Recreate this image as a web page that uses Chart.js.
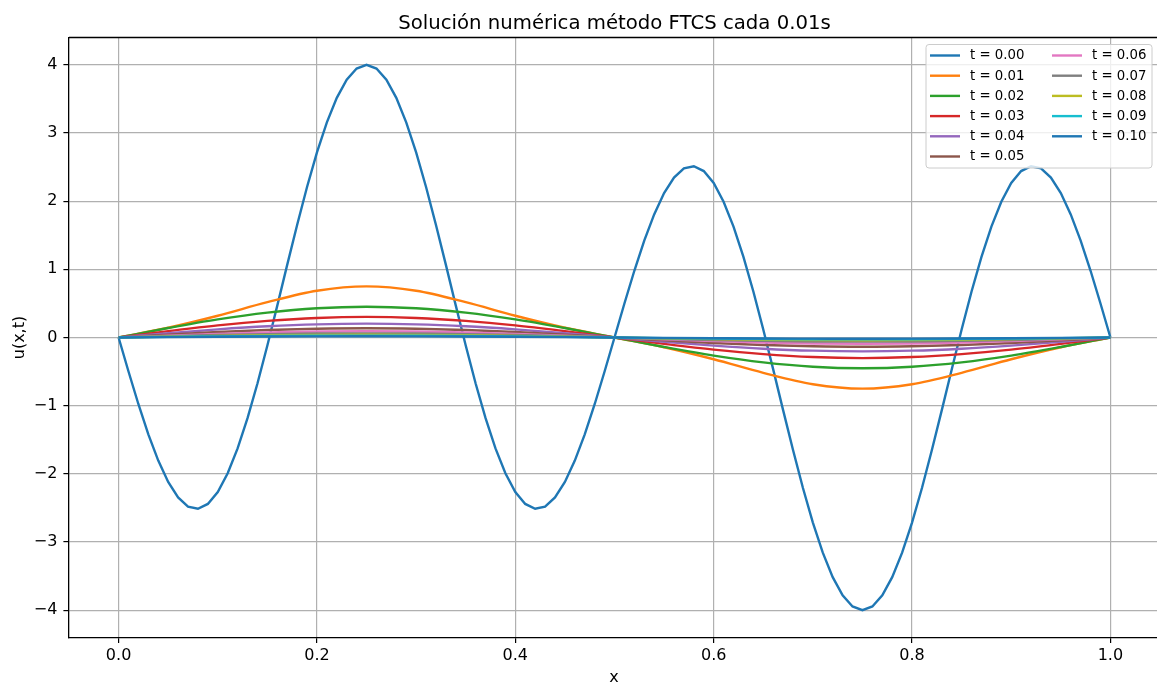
<!DOCTYPE html>
<html lang="es">
<head>
<meta charset="UTF-8">
<title>FTCS</title>
<script src="https://cdn.jsdelivr.net/npm/chart.js"></script>
<style>
  html, body { margin: 0; padding: 0; overflow: hidden; background: #fff; }
</style>
</head>
<body>
<canvas id="chart" width="1163" height="686"></canvas>
<script>
// malla fina (dx = 0.01) para la condición inicial
const xFine = [
  0.00, 0.01, 0.02, 0.03, 0.04, 0.05, 0.06, 0.07, 0.08, 0.09,
  0.10, 0.11, 0.12, 0.13, 0.14, 0.15, 0.16, 0.17, 0.18, 0.19,
  0.20, 0.21, 0.22, 0.23, 0.24, 0.25, 0.26, 0.27, 0.28, 0.29,
  0.30, 0.31, 0.32, 0.33, 0.34, 0.35, 0.36, 0.37, 0.38, 0.39,
  0.40, 0.41, 0.42, 0.43, 0.44, 0.45, 0.46, 0.47, 0.48, 0.49,
  0.50, 0.51, 0.52, 0.53, 0.54, 0.55, 0.56, 0.57, 0.58, 0.59,
  0.60, 0.61, 0.62, 0.63, 0.64, 0.65, 0.66, 0.67, 0.68, 0.69,
  0.70, 0.71, 0.72, 0.73, 0.74, 0.75, 0.76, 0.77, 0.78, 0.79,
  0.80, 0.81, 0.82, 0.83, 0.84, 0.85, 0.86, 0.87, 0.88, 0.89,
  0.90, 0.91, 0.92, 0.93, 0.94, 0.95, 0.96, 0.97, 0.98, 0.99,
  1.00
];
const u000 = [
  0.000, -0.499, -0.979, -1.420, -1.805, -2.118, -2.346, -2.480, -2.512, -2.441,
  -2.266, -1.992, -1.627, -1.183, -0.675, -0.118, 0.468, 1.065, 1.651, 2.207,
  2.715, 3.156, 3.515, 3.782, 3.945, 4.000, 3.945, 3.782, 3.515, 3.156,
  2.715, 2.207, 1.651, 1.065, 0.468, -0.118, -0.675, -1.183, -1.627, -1.992,
  -2.266, -2.441, -2.512, -2.480, -2.346, -2.118, -1.805, -1.420, -0.979, -0.499,
  0.000, 0.499, 0.979, 1.420, 1.805, 2.118, 2.346, 2.480, 2.512, 2.441,
  2.266, 1.992, 1.627, 1.183, 0.675, 0.118, -0.468, -1.065, -1.651, -2.207,
  -2.715, -3.156, -3.515, -3.782, -3.945, -4.000, -3.945, -3.782, -3.515, -3.156,
  -2.715, -2.207, -1.651, -1.065, -0.468, 0.118, 0.675, 1.183, 1.627, 1.992,
  2.266, 2.441, 2.512, 2.480, 2.346, 2.118, 1.805, 1.420, 0.979, 0.499,
  0.000
];

// perfiles siguientes, muestreados cada 0.05
const xCoarse = [0.00, 0.05, 0.10, 0.15, 0.20, 0.25, 0.30, 0.35, 0.40, 0.45, 0.50,
                 0.55, 0.60, 0.65, 0.70, 0.75, 0.80, 0.85, 0.90, 0.95, 1.00];
const u001 = [0, 0.143, 0.319, 0.518, 0.685, 0.750, 0.685, 0.518, 0.319, 0.143, 0,
              -0.143, -0.319, -0.518, -0.685, -0.750, -0.685, -0.518, -0.319, -0.143, 0];
const u002 = [0, 0.139, 0.265, 0.364, 0.428, 0.450, 0.428, 0.364, 0.265, 0.139, 0,
              -0.139, -0.265, -0.364, -0.428, -0.450, -0.428, -0.364, -0.265, -0.139, 0];
const u003 = [0, 0.093, 0.178, 0.244, 0.287, 0.302, 0.287, 0.244, 0.178, 0.093, 0,
              -0.093, -0.178, -0.244, -0.287, -0.302, -0.287, -0.244, -0.178, -0.093, 0];
const u004 = [0, 0.063, 0.119, 0.164, 0.193, 0.203, 0.193, 0.164, 0.119, 0.063, 0,
              -0.063, -0.119, -0.164, -0.193, -0.203, -0.193, -0.164, -0.119, -0.063, 0];
const u005 = [0, 0.042, 0.080, 0.110, 0.129, 0.136, 0.129, 0.110, 0.080, 0.042, 0,
              -0.042, -0.080, -0.110, -0.129, -0.136, -0.129, -0.110, -0.080, -0.042, 0];
const u006 = [0, 0.028, 0.053, 0.074, 0.087, 0.091, 0.087, 0.074, 0.053, 0.028, 0,
              -0.028, -0.053, -0.074, -0.087, -0.091, -0.087, -0.074, -0.053, -0.028, 0];
const u007 = [0, 0.019, 0.036, 0.049, 0.058, 0.061, 0.058, 0.049, 0.036, 0.019, 0,
              -0.019, -0.036, -0.049, -0.058, -0.061, -0.058, -0.049, -0.036, -0.019, 0];
const u008 = [0, 0.013, 0.024, 0.033, 0.039, 0.041, 0.039, 0.033, 0.024, 0.013, 0,
              -0.013, -0.024, -0.033, -0.039, -0.041, -0.039, -0.033, -0.024, -0.013, 0];
const u009 = [0, 0.009, 0.016, 0.023, 0.027, 0.028, 0.027, 0.023, 0.016, 0.009, 0,
              -0.009, -0.016, -0.023, -0.027, -0.028, -0.027, -0.023, -0.016, -0.009, 0];
const u010 = [0, 0.006, 0.011, 0.015, 0.017, 0.018, 0.017, 0.015, 0.011, 0.006, 0,
              -0.006, -0.011, -0.015, -0.017, -0.018, -0.017, -0.015, -0.011, -0.006, 0];

const tLabels = ["t = 0.00", "t = 0.01", "t = 0.02", "t = 0.03", "t = 0.04", "t = 0.05",
                 "t = 0.06", "t = 0.07", "t = 0.08", "t = 0.09", "t = 0.10"];
const xTicks = [0.0, 0.2, 0.4, 0.6, 0.8, 1.0];
const yTicks = [-4, -3, -2, -1, 0, 1, 2, 3, 4];

const colors = ["#1f77b4", "#ff7f0e", "#2ca02c", "#d62728", "#9467bd", "#8c564b",
                "#e377c2", "#7f7f7f", "#bcbd22", "#17becf", "#1f77b4"];
const FONT = "'DejaVu Sans', sans-serif";

const profiles = [
  [xFine, u000], [xCoarse, u001], [xCoarse, u002], [xCoarse, u003], [xCoarse, u004],
  [xCoarse, u005], [xCoarse, u006], [xCoarse, u007], [xCoarse, u008], [xCoarse, u009],
  [xCoarse, u010]
];

const datasets = profiles.map(([xs, ys], k) => ({
  label: tLabels[k],
  data: xs.map((x, i) => ({ x: x, y: ys[i] })),
  borderColor: colors[k],
  borderWidth: 2.4,
  pointRadius: 0,
  fill: false,
  tension: k === 0 ? 0 : 0.4,
  cubicInterpolationMode: k === 0 ? "default" : "monotone",
  order: 10 - k   // las curvas posteriores quedan encima
}));

// título, etiquetas de ejes, borde superior y leyenda
const decor = {
  id: "decor",
  afterDraw(chart) {
    const ctx = chart.ctx;
    const area = chart.chartArea;
    ctx.save();

    ctx.strokeStyle = "#000";
    ctx.lineWidth = 1.3;
    ctx.beginPath();
    ctx.moveTo(area.left, area.top);
    ctx.lineTo(area.right, area.top);
    ctx.stroke();

    ctx.fillStyle = "#000";
    ctx.font = "19.7px " + FONT;
    ctx.textAlign = "center";
    ctx.textBaseline = "alphabetic";
    ctx.fillText("Solución numérica método FTCS cada 0.01s", 614.5, 28.5);

    ctx.font = "16px " + FONT;
    ctx.textBaseline = "middle";
    ctx.fillText("x", 614, 678);
    ctx.save();
    ctx.translate(20, 337.5);
    ctx.rotate(-Math.PI / 2);
    ctx.fillText("u(x,t)", 0, 0);
    ctx.restore();

    // leyenda en dos columnas
    const bx = 926, by = 44.5, bw = 226, bh = 123.5, r = 3;
    ctx.beginPath();
    ctx.moveTo(bx + r, by);
    ctx.arcTo(bx + bw, by, bx + bw, by + bh, r);
    ctx.arcTo(bx + bw, by + bh, bx, by + bh, r);
    ctx.arcTo(bx, by + bh, bx, by, r);
    ctx.arcTo(bx, by, bx + bw, by, r);
    ctx.closePath();
    ctx.fillStyle = "rgba(255,255,255,0.8)";
    ctx.fill();
    ctx.strokeStyle = "#cccccc";
    ctx.lineWidth = 1;
    ctx.stroke();

    ctx.font = "13.3px " + FONT;
    ctx.textAlign = "left";
    ctx.textBaseline = "middle";
    tLabels.forEach((lab, k) => {
      const col = k < 6 ? 0 : 1;
      const row = k < 6 ? k : k - 6;
      const hx = col === 0 ? 930 : 1052;
      const y = 55.5 + row * 20.2;
      ctx.strokeStyle = colors[k];
      ctx.lineWidth = 2.4;
      ctx.beginPath();
      ctx.moveTo(hx, y);
      ctx.lineTo(hx + 30, y);
      ctx.stroke();
      ctx.fillStyle = "#000";
      ctx.fillText(lab, hx + 40, y + 0.5);
    });

    ctx.restore();
  }
};

new Chart(document.getElementById("chart"), {
  type: "line",
  data: { datasets: datasets },
  options: {
    responsive: false,
    animation: false,
    devicePixelRatio: 1,
    layout: { padding: { top: 37.5, right: 3, bottom: 0, left: 0 } },
    plugins: { legend: { display: false }, title: { display: false }, tooltip: { enabled: false } },
    scales: {
      x: {
        type: "linear",
        min: -0.05,
        max: 1.05,
        afterBuildTicks: s => { s.ticks = xTicks.map(v => ({ value: v })); },
        afterFit: s => { s.height = 48.5; },
        ticks: {
          color: "#000",
          font: { family: FONT, size: 16 },
          padding: 3.5,
          maxRotation: 0,
          autoSkip: false,
          callback: v => v.toFixed(1)
        },
        grid: { color: "#b0b0b0", lineWidth: 1.2, tickColor: "#000", tickLength: 5.6, tickWidth: 1.2 },
        border: { color: "#000", width: 1.3 }
      },
      y: {
        min: -4.4,
        max: 4.4,
        afterBuildTicks: s => { s.ticks = yTicks.map(v => ({ value: v })); },
        afterFit: s => { s.width = 69; },
        ticks: {
          color: "#000",
          font: { family: FONT, size: 16 },
          padding: 6,
          autoSkip: false,
          callback: v => (v < 0 ? "\u2212" + Math.abs(v) : String(v))
        },
        grid: { color: "#b0b0b0", lineWidth: 1.2, tickColor: "#000", tickLength: 5.6, tickWidth: 1.2 },
        border: { color: "#000", width: 1.3 }
      }
    }
  },
  plugins: [decor]
});
</script>
</body>
</html>
